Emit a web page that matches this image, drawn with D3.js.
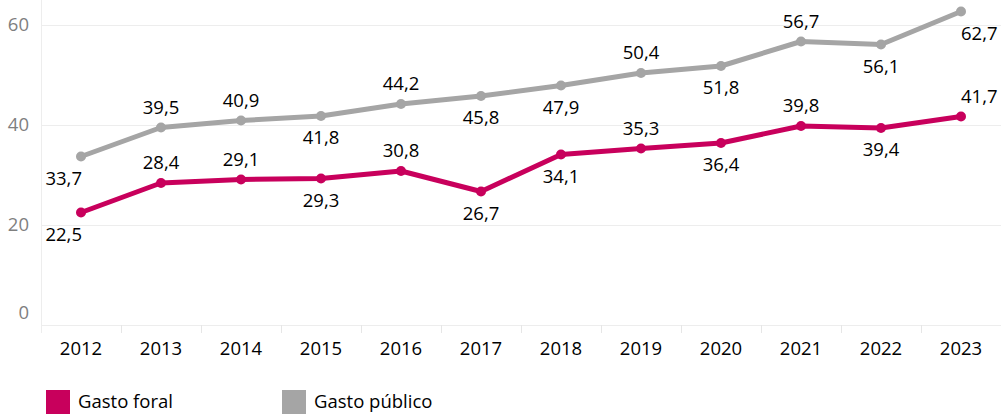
<!DOCTYPE html>
<html>
<head>
<meta charset="utf-8">
<script src="https://cdn.jsdelivr.net/npm/d3@7"></script>
<style>
  html, body { margin: 0; padding: 0; background: #fff; }
  svg { display: block; }
  text { font-family: "Open Sans", sans-serif; }
</style>
</head>
<body>
<svg id="chart" width="1001" height="414"></svg>
<script>
const years = ["2012","2013","2014","2015","2016","2017","2018","2019","2020","2021","2022","2023"];
const gastoForal = [22.5, 28.4, 29.1, 29.3, 30.8, 26.7, 34.1, 35.3, 36.4, 39.8, 39.4, 41.7];
const gastoPublico = [33.7, 39.5, 40.9, 41.8, 44.2, 45.8, 47.9, 50.4, 51.8, 56.7, 56.1, 62.7];
const foralLabelPos = ["below","above","above","below","above","below","below","above","below","above","below","above"];
const publicoLabelPos = ["below","above","above","below","above","below","below","above","below","above","below","below"];
const yTicks = [0, 20, 40, 60];
const seriesNames = ["Gasto foral", "Gasto público"];

const colors = { foral: "#C8005C", publico: "#A5A5A5" };

const svg = d3.select("#chart");
const plotLeft = 41, plotRight = 1001, plotTop = 0, plotBottom = 325;

const x = d3.scaleBand().domain(years).range([plotLeft, plotRight]).paddingInner(0).paddingOuter(0);
const y = d3.scaleLinear().domain([0, 65]).range([plotBottom, plotTop]);

// gridlines
svg.append("g")
  .selectAll("line").data(yTicks).join("line")
  .attr("x1", plotLeft).attr("x2", plotRight)
  .attr("y1", d => Math.round(y(d)) + 0.5).attr("y2", d => Math.round(y(d)) + 0.5)
  .attr("stroke", "#EDEDED").attr("stroke-width", 1);

// vertical axis line
svg.append("line")
  .attr("x1", plotLeft + 0.5).attr("x2", plotLeft + 0.5)
  .attr("y1", plotTop).attr("y2", plotBottom + 8)
  .attr("stroke", "#EDEDED");

// x tick marks at band boundaries
const boundaries = years.map(d => x(d)).concat([plotRight]);
svg.append("g").selectAll("line").data(boundaries.slice(1, -1)).join("line")
  .attr("x1", d => Math.round(d) + 0.5).attr("x2", d => Math.round(d) + 0.5)
  .attr("y1", plotBottom).attr("y2", plotBottom + 8)
  .attr("stroke", "#E6E6E6");

// y axis labels
svg.append("g").selectAll("text").data(yTicks).join("text")
  .attr("x", 29)
  .attr("y", d => y(d) + (d === 0 ? -12 : 0))
  .attr("dy", "0.35em")
  .attr("text-anchor", "end")
  .attr("font-size", "18.5px")
  .attr("fill", "#7F7F7F")
  .text(d => d);

// x labels
svg.append("g").selectAll("text").data(years).join("text")
  .attr("x", d => x(d) + x.bandwidth() / 2)
  .attr("y", 349)
  .attr("dy", "0.35em")
  .attr("text-anchor", "middle")
  .attr("font-size", "18.5px")
  .attr("fill", "#000")
  .text(d => d);

const line = d3.line()
  .x((d, i) => x(years[i]) + x.bandwidth() / 2)
  .y(d => y(d));

function drawSeries(values, color, positions) {
  const g = svg.append("g");
  g.append("path").datum(values)
    .attr("d", line)
    .attr("fill", "none")
    .attr("stroke", color)
    .attr("stroke-width", 5)
    .attr("stroke-linejoin", "round");
  g.selectAll("circle").data(values).join("circle")
    .attr("cx", (d, i) => x(years[i]) + x.bandwidth() / 2)
    .attr("cy", d => y(d))
    .attr("r", 5)
    .attr("fill", color);
  g.selectAll("text").data(values).join("text")
    .attr("x", (d, i) => x(years[i]) + x.bandwidth() / 2 + (i === 0 ? 1 : 0))
    .attr("y", (d, i) => y(d) + (positions[i] === "above" ? -20 : 22))
    .attr("dy", "0.35em")
    .attr("text-anchor", (d, i) => i === 0 ? "end" : (i === values.length - 1 ? "start" : "middle"))
    .attr("font-size", "18.5px")
    .attr("fill", "#000")
    .text(d => d.toFixed(1).replace(".", ","));
}

drawSeries(gastoPublico, colors.publico, publicoLabelPos);
drawSeries(gastoForal, colors.foral, foralLabelPos);

// legend
const legendX = [46, 282];
const legendColors = [colors.foral, colors.publico];
const lg = svg.append("g").selectAll("g").data(seriesNames).join("g")
  .attr("transform", (d, i) => `translate(${legendX[i]},390)`);
lg.append("rect").attr("width", 24).attr("height", 24)
  .attr("fill", (d, i) => legendColors[i]);
lg.append("text").attr("x", 32).attr("y", 12).attr("dy", "0.35em")
  .attr("font-size", "18.5px").attr("fill", "#000")
  .text(d => d);
</script>
</body>
</html>
